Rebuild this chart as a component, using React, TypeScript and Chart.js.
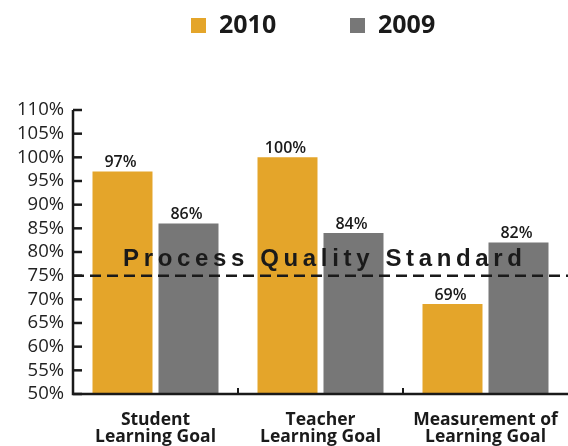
import React, { useEffect, useRef } from "react";
import { Chart, registerables } from "chart.js";

Chart.register(...registerables);

const categories: string[][] = [
  ["Student", "Learning Goal"],
  ["Teacher", "Learning Goal"],
  ["Measurement of", "Learning Goal"],
];
const seriesNames: string[] = ["2010", "2009"];
const series2010: number[] = [97, 100, 69];
const series2009: number[] = [86, 84, 82];
const yTicks: number[] = [50, 55, 60, 65, 70, 75, 80, 85, 90, 95, 100, 105, 110];
const standardValue = 75;
const standardLabel = "Process Quality Standard";

const ORANGE = "#E4A52A";
const GRAY = "#777777";
const INK = "#1a1a1a";

const customPlugin = {
  id: "custom",
  afterDatasetsDraw(chart: any) {
    const ctx = chart.ctx;
    const { left, right, top, bottom } = chart.chartArea;
    const y = chart.scales.y;
    const x = chart.scales.x;
    ctx.save();
    // legend
    const legendColors = [ORANGE, GRAY];
    const legendX = [191, 350];
    ctx.font = "bold 25px 'Open Sans', sans-serif";
    ctx.textBaseline = "middle";
    ctx.textAlign = "left";
    seriesNames.forEach((name, i) => {
      ctx.fillStyle = legendColors[i];
      ctx.fillRect(legendX[i], 18, 15, 15);
      ctx.fillStyle = INK;
      ctx.fillText(name, legendX[i] + 28, 26);
    });
    // axes
    ctx.strokeStyle = INK;
    ctx.lineWidth = 2.5;
    ctx.beginPath();
    ctx.moveTo(left, top);
    ctx.lineTo(left, bottom);
    ctx.lineTo(right, bottom);
    ctx.stroke();
    // y ticks inward
    yTicks.forEach((v) => {
      const py = y.getPixelForValue(v);
      ctx.beginPath();
      ctx.moveTo(left, py);
      ctx.lineTo(left + 9, py);
      ctx.stroke();
    });
    // x separators
    ctx.lineWidth = 2;
    for (let i = 1; i < categories.length; i++) {
      const px = (x.getPixelForValue(i - 1) + x.getPixelForValue(i)) / 2;
      ctx.beginPath();
      ctx.moveTo(px, bottom);
      ctx.lineTo(px, bottom - 6);
      ctx.stroke();
    }
    // value labels
    ctx.fillStyle = INK;
    ctx.font = "600 16px 'Open Sans', sans-serif";
    ctx.textAlign = "center";
    ctx.textBaseline = "bottom";
    chart.data.datasets.forEach((ds: any, di: number) => {
      const meta = chart.getDatasetMeta(di);
      meta.data.forEach((bar: any, i: number) => {
        ctx.fillText(ds.data[i] + "%", bar.x - 2, bar.y - 1);
      });
    });
    // dashed standard line
    const sy = y.getPixelForValue(standardValue);
    ctx.setLineDash([11, 6]);
    ctx.lineWidth = 2.5;
    ctx.beginPath();
    ctx.moveTo(left, sy);
    ctx.lineTo(right, sy);
    ctx.stroke();
    ctx.setLineDash([]);
    // label
    ctx.font = "bold 24px 'Liberation Sans', Arial, sans-serif";
    (ctx as any).letterSpacing = "0px";
    const w0 = ctx.measureText(standardLabel).width;
    const targetW = 399;
    const sp = (targetW - w0) / (standardLabel.length - 1);
    (ctx as any).letterSpacing = sp + "px";
    ctx.textAlign = "left";
    ctx.textBaseline = "alphabetic";
    const cx = (left + right) / 2 + 2;
    ctx.fillText(standardLabel, cx - targetW / 2, sy - 10);
    ctx.restore();
  },
};

export default function App() {
  const ref = useRef<HTMLCanvasElement>(null);
  useEffect(() => {
    if (!ref.current) return;
    const chart = new Chart(ref.current, {
      type: "bar",
      data: {
        labels: categories,
        datasets: [
          {
            label: seriesNames[0],
            data: series2010,
            backgroundColor: ORANGE,
            categoryPercentage: 0.8,
            barPercentage: 0.909,
          },
          {
            label: seriesNames[1],
            data: series2009,
            backgroundColor: GRAY,
            categoryPercentage: 0.8,
            barPercentage: 0.909,
          },
        ],
      },
      options: {
        animation: false,
        responsive: false,
        maintainAspectRatio: false,
        layout: { padding: { top: 110, left: 0, right: 0, bottom: 0 } },
        plugins: {
          legend: { display: false },
          tooltip: { enabled: false },
        },
        scales: {
          x: {
            grid: { display: false, drawTicks: false },
            border: { display: false },
            ticks: {
              color: INK,
              padding: 18,
              font: { family: "'Open Sans', sans-serif", size: 17.5, weight: "bold", lineHeight: "17px" },
              maxRotation: 0,
              autoSkip: false,
            },
            afterFit: (s: any) => {
              s.height = 52;
              s.paddingLeft = 0;
              s.paddingRight = 0;
            },
          },
          y: {
            min: 50,
            max: 110,
            grid: { display: false, drawTicks: false },
            border: { display: false },
            ticks: {
              stepSize: 5,
              autoSkip: false,
              color: "#222",
              padding: 9,
              font: { family: "'Open Sans', sans-serif", size: 18.5 },
              callback: (v: any) => v + "%",
            },
            afterFit: (s: any) => {
              s.width = 73;
            },
          },
        },
      },
      plugins: [customPlugin],
    });
    return () => chart.destroy();
  }, []);
  return (
    <div style={{ position: "fixed", left: 0, top: 0, width: 568, height: 446, background: "#fff" }}>
      <canvas ref={ref} width={568} height={446} style={{ width: 568, height: 446 }} />
    </div>
  );
}
